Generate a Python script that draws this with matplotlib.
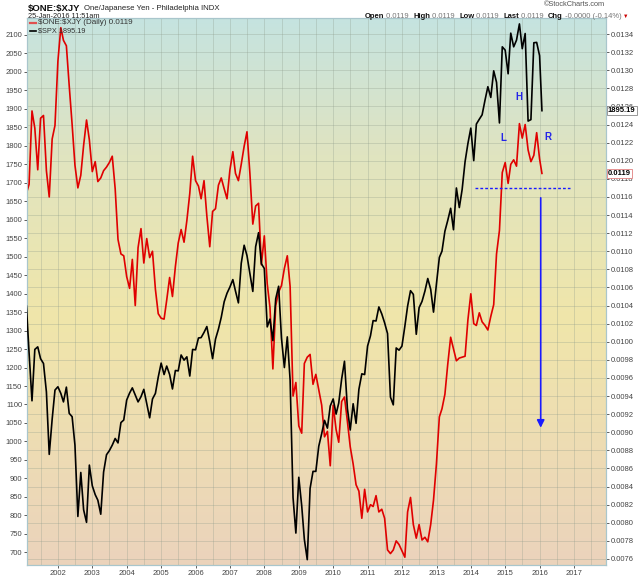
import matplotlib
matplotlib.use("Agg")
import matplotlib.pyplot as plt
import matplotlib.dates as mdates
import numpy as np
import pandas as pd
from matplotlib.colors import LinearSegmentedColormap

plt.rcParams["font.family"] = ["Liberation Sans", "DejaVu Sans"]

# valores de fin de mes, ene-2001 .. dic-2015, y el ultimo dato del 25-ene-2016
fechas = list(pd.date_range("2001-01-31", periods=180, freq="ME")) + [pd.Timestamp("2016-01-25")]

spx = [
    1366, 1240, 1110, 1249, 1256, 1224, 1211, 1134, 965, 1060, 1139, 1148,
    1130, 1107, 1147, 1076, 1067, 990, 797, 916, 815, 781, 936, 880,
    856, 841, 803, 917, 964, 975, 990, 1008, 996, 1051, 1058, 1112,
    1131, 1145, 1126, 1107, 1121, 1141, 1102, 1064, 1115, 1130, 1174, 1212,
    1181, 1204, 1181, 1142, 1192, 1191, 1234, 1220, 1229, 1177, 1249, 1248,
    1280, 1281, 1295, 1311, 1270, 1224, 1277, 1304, 1336, 1378, 1401, 1418,
    1438, 1407, 1375, 1482, 1531, 1503, 1455, 1406, 1527, 1565, 1481, 1468,
    1310, 1331, 1273, 1386, 1420, 1280, 1200, 1283, 1166, 848, 752, 903,
    826, 735, 680, 873, 919, 919, 987, 1021, 1057, 1036, 1096, 1115,
    1074, 1104, 1169, 1217, 1089, 1031, 1102, 1049, 1141, 1183, 1181, 1258,
    1286, 1327, 1326, 1364, 1345, 1321, 1292, 1120, 1099, 1253, 1247, 1258,
    1312, 1366, 1408, 1398, 1290, 1362, 1379, 1407, 1441, 1412, 1350, 1426,
    1498, 1515, 1569, 1598, 1631, 1573, 1686, 1633, 1682, 1757, 1806, 1848,
    1760, 1859, 1872, 1884, 1924, 1960, 1931, 2003, 1972, 1862, 2068, 2059,
    1995, 2105, 2068, 2086, 2130, 2063, 2104, 1867, 1871, 2079, 2080, 2044,
    1895.19,
]

# yenes por dolar; la serie $ONE:$XJY es este valor / 10000
usdjpy = [
    116.4, 117.4, 125.5, 123.6, 119.0, 124.7, 125.0, 118.9, 116.0, 122.4, 123.9, 131.0,
    134.7, 133.3, 132.7, 128.3, 124.0, 119.5, 117.0, 118.4, 121.7, 124.5, 122.3, 118.8,
    119.9, 117.7, 118.1, 118.9, 119.3, 119.8, 120.5, 116.9, 111.3, 109.7, 109.5, 107.2,
    105.9, 109.1, 104.0, 110.4, 112.5, 108.7, 111.4, 109.3, 110.0, 105.8, 103.1, 102.6,
    102.5, 104.6, 107.1, 105.0, 108.3, 110.9, 112.4, 111.0, 113.4, 116.4, 120.5, 117.8,
    117.2, 115.8, 117.8, 113.9, 110.5, 114.4, 114.7, 117.3, 118.1, 116.9, 115.8, 119.0,
    121.0, 118.6, 117.8, 119.6, 121.6, 123.2, 118.6, 113.0, 115.0, 115.3, 108.5, 111.7,
    106.4, 103.8, 97.0, 104.0, 105.5, 106.2, 108.1, 109.5, 106.1, 94.0, 95.5, 90.7,
    89.9, 97.6, 98.3, 98.6, 95.3, 96.4, 94.7, 93.0, 89.5, 90.1, 86.3, 93.0,
    90.3, 88.9, 93.4, 93.9, 91.2, 88.4, 86.5, 84.2, 83.5, 80.5, 83.7, 81.2,
    82.0, 81.8, 83.0, 81.2, 81.5, 80.5, 77.0, 76.6, 77.0, 78.0, 77.6, 76.9,
    76.2, 81.2, 82.8, 79.8, 78.3, 79.8, 78.1, 78.4, 77.9, 79.8, 82.5, 86.5,
    91.7, 92.6, 94.2, 97.5, 100.5, 99.2, 97.9, 98.2, 98.3, 98.4, 102.4, 105.3,
    102.0, 101.8, 103.2, 102.2, 101.8, 101.3, 102.8, 104.1, 109.7, 112.3, 118.7, 119.8,
    117.5, 119.6, 120.1, 119.4, 124.1, 122.5, 124.0, 121.2, 119.9, 120.6, 123.1, 120.2,
    118.6,
]
one_xjy = np.array(usdjpy) / 10000.0

ticks_spx = list(range(700, 2101, 50))
ticks_yen = [round(0.0076 + 0.0002 * i, 4) for i in range(30)]

# figuras del chartista: hombro-cabeza-hombro, neckline y objetivo
hch_textos = ["L", "H", "R"]
hch_fechas = ["2014-12-10", "2015-05-25", "2016-03-25"]
hch_valores = [0.01225, 0.01270, 0.01226]
neckline = 0.01170
neckline_desde, neckline_hasta = "2014-02-15", "2016-11-15"
flecha_fecha = "2016-01-12"
flecha_desde, flecha_hasta = 0.01159, 0.00905

W, H = 640, 576
fig = plt.figure(figsize=(W / 100, H / 100), dpi=100)
x0, x1, y0, y1 = 27, 606, 18, 565
ax = fig.add_axes([x0 / W, 1 - y1 / H, (x1 - x0) / W, (y1 - y0) / H])

# fondo degradado del estilo StockCharts
fondo = LinearSegmentedColormap.from_list(
    "fondo", [(0.0, "#ebd3bc"), (0.45, "#f0e6aa"), (0.75, "#e0e4c0"), (1.0, "#c5e3e0")])
ax.imshow(np.linspace(0, 1, 256).reshape(-1, 1), cmap=fondo, origin="lower",
          aspect="auto", extent=[0, 1, 0, 1], transform=ax.transAxes, zorder=0)

ax.plot(fechas, one_xjy, color="#e00000", lw=1.2, zorder=3)
ax2 = ax.twinx()
ax2.plot(fechas, spx, color="#000000", lw=1.2, zorder=3)

ax.set_xlim(pd.Timestamp("2001-02-06"), pd.Timestamp("2017-12-05"))
ax.set_ylim(0.0075337, 0.013577)
ax2.set_ylim(665.6, 2146)

# ejes: yen a la derecha, SPX a la izquierda
ax.yaxis.tick_right()
ax2.yaxis.tick_left()
ax.set_yticks(ticks_yen)
ax.set_yticklabels([f"{v:.4f}" for v in ticks_yen])
ax2.set_yticks(ticks_spx)
ax2.set_yticklabels([str(v) for v in ticks_spx])
ax.xaxis.set_major_locator(mdates.YearLocator())
ax.xaxis.set_major_formatter(mdates.DateFormatter("%Y"))
ax.xaxis.set_minor_locator(mdates.MonthLocator(bymonth=7))
for a in (ax, ax2):
    a.tick_params(axis="both", labelsize=5.5, colors="#444444", length=2, width=0.6, pad=1.5)
    for s in a.spines.values():
        s.set_color("#a9c6cc")
        s.set_linewidth(0.8)
ax.tick_params(axis="x", which="minor", length=0)
ax.grid(True, which="both", color="#8c9a8a", alpha=0.3, lw=0.7, zorder=1)

azul = "#1a1aff"
for t, f, v in zip(hch_textos, hch_fechas, hch_valores):
    ax.text(pd.Timestamp(f), v, t, color="#2424e8", fontsize=7, fontweight="bold",
            ha="center", va="center", zorder=5)
ax.plot([pd.Timestamp(neckline_desde), pd.Timestamp(neckline_hasta)], [neckline, neckline],
        color=azul, lw=1.0, ls=(0, (2, 1.5)), zorder=5)
ax.annotate("", xy=(pd.Timestamp(flecha_fecha), flecha_hasta),
            xytext=(pd.Timestamp(flecha_fecha), flecha_desde),
            arrowprops=dict(arrowstyle="-|>", color=azul, lw=1.2, mutation_scale=11,
                            shrinkA=0, shrinkB=0), zorder=5)

# etiquetas de ultimo valor en el eje derecho (tapan la marca de debajo, como el original)
ax2.text(1.003, spx[-1], f"{spx[-1]:.2f}", transform=ax2.get_yaxis_transform(),
         fontsize=5.5, fontweight="bold", color="#000000", va="center", ha="left", clip_on=False,
         zorder=10, bbox=dict(boxstyle="square,pad=0.15", fc="white", ec="#888888", lw=0.6))
ax2.text(1.003, one_xjy[-1], f"{one_xjy[-1]:.4f}", transform=ax.get_yaxis_transform(),
         fontsize=5.5, fontweight="bold", color="#000000", va="center", ha="left", clip_on=False,
         zorder=10, bbox=dict(boxstyle="square,pad=0.15", fc="white", ec="#e08080", lw=0.6))

# cabecera
renderer = fig.canvas.get_renderer()
t_tit = fig.text(28 / W, 1 - 8 / H, r"\$ONE:\$XJY", fontsize=6.8, fontweight="bold",
                 color="#111111", va="center")
xt = 28 + t_tit.get_window_extent(renderer).width + 3
fig.text(xt / W, 1 - 8 / H, "One/Japanese Yen - Philadelphia INDX", fontsize=5.6,
         color="#222222", va="center")
fig.text(28 / W, 1 - 16 / H, "25-Jan-2016 11:51am", fontsize=5.3, color="#222222", va="center")
fig.text(605 / W, 1 - 5 / H, "\u00a9StockCharts.com", fontsize=5.3, color="#555555",
         va="center", ha="right")

piezas = [("Open", True), (" 0.0119  ", False), ("High", True), (" 0.0119  ", False),
          ("Low", True), (" 0.0119  ", False), ("Last", True), (" 0.0119  ", False),
          ("Chg", True), (" -0.0000 (-0.14%) ", False)]
xp = 365
for txt, negrita in piezas:
    t = fig.text(xp / W, 1 - 16 / H, txt, fontsize=5.5, va="center",
                 fontweight="bold" if negrita else "normal",
                 color="#111111" if negrita else "#777777")
    xp += t.get_window_extent(renderer).width
fig.text(xp / W, 1 - 16 / H, "\u25bc", fontsize=4, color="#cc0000", va="center")

# leyenda interna
fig.lines.append(plt.Line2D([30 / W, 36 / W], [1 - 23 / H, 1 - 23 / H], color="#e05050",
                            lw=1.6, transform=fig.transFigure))
fig.lines.append(plt.Line2D([30 / W, 36 / W], [1 - 31 / H, 1 - 31 / H], color="#000000",
                            lw=1.2, transform=fig.transFigure))
fig.text(38 / W, 1 - 23 / H, r"\$ONE:\$XJY (Daily) 0.0119", fontsize=5.8, color="#333333",
         va="center")
fig.text(38 / W, 1 - 31 / H, r"\$SPX 1895.19", fontsize=5.3, color="#333333", va="center")

fig.savefig("out.png", dpi=100)
